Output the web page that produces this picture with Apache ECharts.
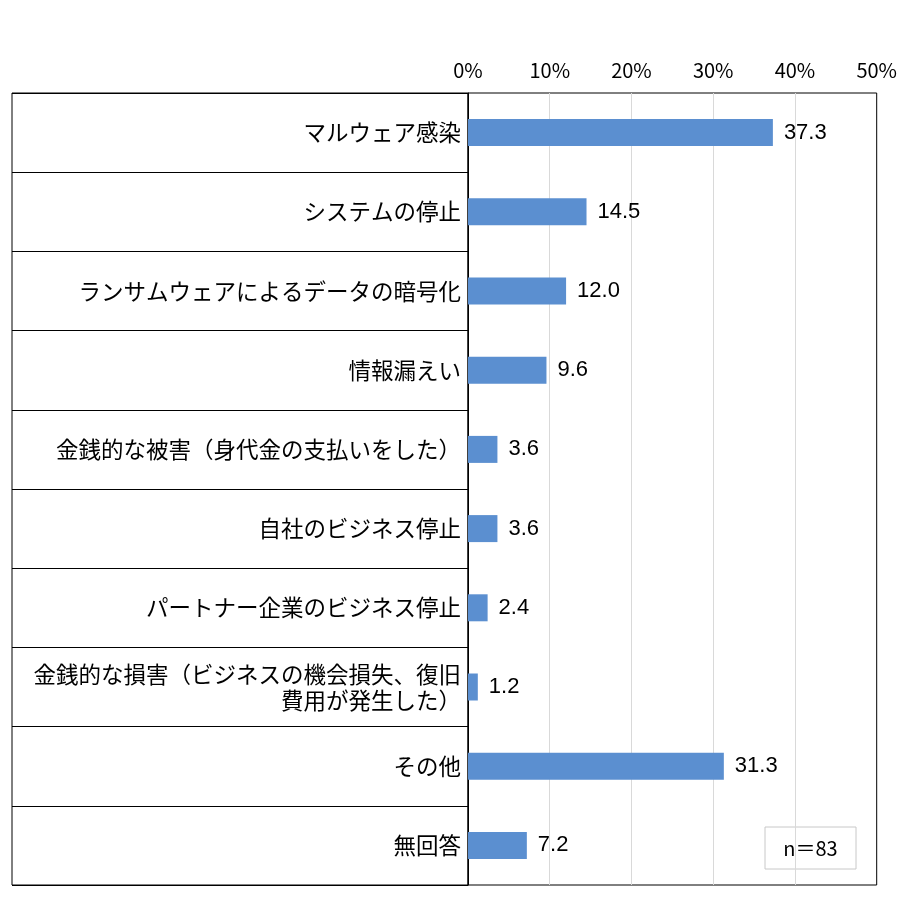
<!DOCTYPE html>
<html lang="ja">
<head>
    <meta charset="UTF-8">
    <title>被害の内容</title>
    <script src="https://cdn.jsdelivr.net/npm/echarts@6/dist/echarts.min.js"></script>
    <style>
        html, body { margin: 0; padding: 0; background: #fff; }
    </style>
</head>
<body>
<div id="main" style="width: 900px;height:907px;"></div>
<script type="text/javascript">
    // 項目と回答割合（%）
    var categories = [
        'マルウェア感染',
        'システムの停止',
        'ランサムウェアによるデータの暗号化',
        '情報漏えい',
        '金銭的な被害（身代金の支払いをした）',
        '自社のビジネス停止',
        'パートナー企業のビジネス停止',
        '金銭的な損害（ビジネスの機会損失、復旧\n費用が発生した）',
        'その他',
        '無回答'
    ];
    var values = [37.3, 14.5, 12.0, 9.6, 3.6, 3.6, 2.4, 1.2, 31.3, 7.2];
    var sampleNote = 'n＝83';

    var jpFont = '"Noto Sans CJK JP", sans-serif';
    var myChart = echarts.init(document.getElementById('main'));

    var option = {
        animation: false,
        backgroundColor: '#fff',
        grid: [
            // 左側の項目欄
            {left: 12, top: 93, width: 456, bottom: 22, show: true, borderColor: '#000', borderWidth: 1},
            // グラフ部分
            {left: 468, right: 22, top: 93, bottom: 22, show: true, borderColor: '#000', borderWidth: 1}
        ],
        xAxis: [
            {gridIndex: 0, type: 'value', show: false},
            {
                gridIndex: 1,
                type: 'value',
                position: 'top',
                min: 0,
                max: 50,
                interval: 10,
                axisLine: {show: false},
                axisTick: {show: false},
                axisLabel: {
                    formatter: '{value}%',
                    color: '#000',
                    fontSize: 20,
                    fontFamily: jpFont,
                    margin: 13
                },
                splitLine: {
                    show: true,
                    showMinLine: false,
                    showMaxLine: false,
                    lineStyle: {color: '#d9d9d9', width: 1}
                }
            }
        ],
        yAxis: [
            {
                gridIndex: 0,
                type: 'category',
                inverse: true,
                data: categories,
                axisLine: {show: false},
                axisTick: {show: false},
                axisLabel: {show: false},
                splitLine: {show: true, lineStyle: {color: '#000', width: 1}}
            },
            {
                gridIndex: 1,
                type: 'category',
                inverse: true,
                data: categories,
                axisLine: {show: true, lineStyle: {color: '#000', width: 1}},
                axisTick: {show: false},
                axisLabel: {
                    color: '#000',
                    fontSize: 22.5,
                    fontFamily: jpFont,
                    lineHeight: 26,
                    align: 'right',
                    margin: 7
                }
            }
        ],
        series: [{
            type: 'bar',
            xAxisIndex: 1,
            yAxisIndex: 1,
            data: values,
            barWidth: 27,
            itemStyle: {color: '#5b8fd0'},
            label: {
                show: true,
                position: 'right',
                distance: 11,
                color: '#000',
                fontSize: 22,
                fontFamily: '"Liberation Sans", Arial, sans-serif',
                formatter: function (p) {
                    return p.value.toFixed(1);
                }
            }
        }],
        graphic: [{
            type: 'group',
            children: [
                {
                    type: 'rect',
                    shape: {x: 765, y: 827, width: 91, height: 42},
                    style: {fill: '#fff', stroke: '#c8c8c8', lineWidth: 1}
                },
                {
                    type: 'text',
                    x: 810.5,
                    y: 848,
                    style: {
                        text: sampleNote,
                        fill: '#000',
                        fontSize: 20,
                        fontFamily: jpFont,
                        align: 'center',
                        verticalAlign: 'middle'
                    }
                }
            ]
        }]
    };

    myChart.setOption(option);
</script>
</body>
</html>
